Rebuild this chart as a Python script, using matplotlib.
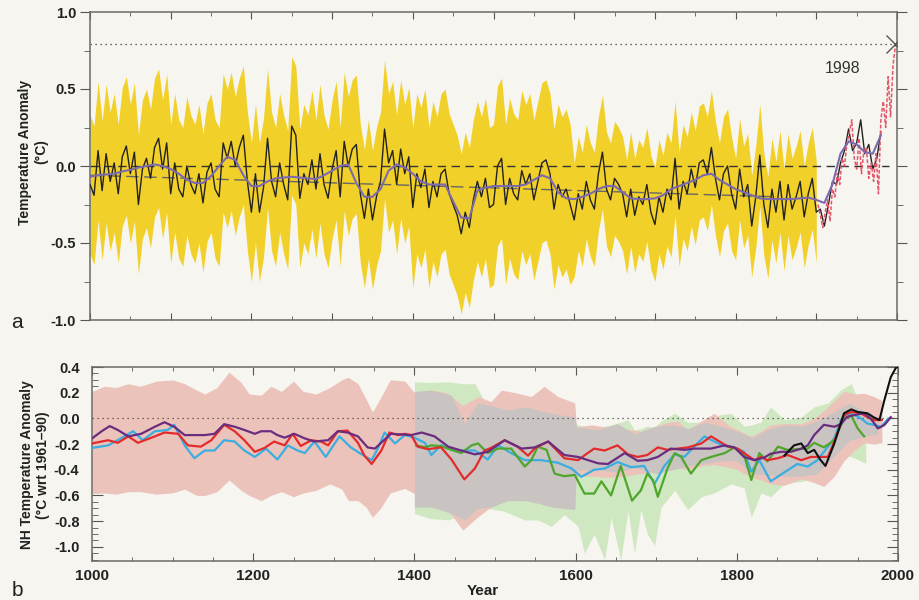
"""Millennial NH temperature reconstructions, two panels."""
import numpy as np
import matplotlib
matplotlib.use("Agg")
import matplotlib.pyplot as plt
from matplotlib.ticker import MultipleLocator, FormatStrFormatter

plt.rcParams['font.family'] = ['Liberation Sans', 'DejaVu Sans']

# ---------------- panel a: annual reconstruction (5-yr samples) ----------------
RECON_START, RECON_STEP = 1000, 5
RECON = [
    -0.12, -0.19, 0.10, -0.16, 0.08, -0.10, 0.02, -0.18, 0.06, 0.13,
    -0.05, 0.09, -0.25, -0.02, 0.05, -0.08, 0.12, 0.18, -0.02, 0.15,
    -0.18, 0.02, -0.15, -0.20, 0.00, -0.12, -0.18, -0.05, -0.24, -0.04,
    0.02, -0.15, -0.20, 0.15, 0.05, 0.16, 0.00, 0.12, 0.20, -0.10,
    -0.30, -0.05, -0.30, -0.14, 0.18, -0.10, -0.20, 0.02, -0.12, -0.22,
    0.26, 0.20, -0.21, -0.05, -0.12, 0.04, -0.15, 0.08, -0.12, -0.21,
    -0.02, 0.10, -0.20, 0.16, 0.00, 0.11, 0.14, -0.18, -0.34, -0.15,
    -0.35, -0.20, -0.10, 0.24, 0.02, 0.10, -0.12, 0.11, -0.05, 0.06,
    -0.27, -0.05, -0.14, -0.02, -0.27, -0.10, -0.20, -0.05, -0.02, -0.18,
    -0.25, -0.32, -0.44, -0.30, -0.40, -0.22, -0.10, -0.20, -0.08, -0.27,
    -0.25, 0.00, 0.05, -0.25, -0.08, -0.18, -0.22, -0.03, -0.12, -0.05,
    -0.22, -0.10, 0.02, 0.04, -0.05, -0.28, -0.12, -0.20, -0.15, -0.25,
    -0.35, -0.18, -0.28, -0.10, -0.22, -0.28, -0.05, 0.09, -0.15, -0.22,
    -0.08, -0.12, -0.18, -0.33, -0.15, -0.32, -0.20, -0.25, -0.12, -0.30,
    -0.38, -0.20, -0.30, -0.15, -0.22, 0.05, -0.28, -0.10, -0.18, -0.02,
    -0.14, 0.02, 0.04, -0.05, 0.12, -0.08, -0.22, -0.05, 0.00, -0.18,
    -0.28, -0.02, -0.20, -0.12, -0.39, -0.20, 0.07, -0.25, -0.40, -0.15,
    -0.30, -0.10, -0.35, -0.12, -0.28, -0.20, -0.10, -0.33, -0.18, -0.08,
    -0.30, -0.28, -0.39, -0.25, -0.10, -0.12, 0.02, 0.10, 0.24, 0.10,
    0.15, 0.30, 0.08, 0.14, -0.02, 0.05, 0.22,
]

# 40-year smoothed reconstruction (10-yr samples)
SMOOTH_START, SMOOTH_STEP = 1000, 10
SMOOTH = [
    -0.07, -0.06, -0.055, -0.05, -0.035, -0.025, -0.01, 0.0, 0.01, 0.0,
    -0.02, -0.05, -0.09, -0.11, -0.11, -0.065, 0.0, 0.06, 0.04, -0.06,
    -0.13, -0.13, -0.10, -0.08, -0.075, -0.07, -0.075, -0.08, -0.085, -0.06,
    -0.03, 0.0, 0.01, -0.11, -0.20, -0.20, -0.15, -0.03, 0.01, -0.01,
    -0.05, -0.10, -0.12, -0.12, -0.12, -0.23, -0.335, -0.34, -0.16, -0.14,
    -0.13, -0.13, -0.13, -0.13, -0.12, -0.09, -0.06, -0.08, -0.17, -0.21,
    -0.215, -0.20, -0.18, -0.15, -0.13, -0.13, -0.17, -0.21, -0.215, -0.215,
    -0.21, -0.19, -0.15, -0.13, -0.11, -0.09, -0.06, -0.05, -0.09, -0.12,
    -0.15, -0.17, -0.19, -0.21, -0.215, -0.215, -0.215, -0.215, -0.21, -0.205,
    -0.22, -0.24, -0.12, 0.08, 0.16, 0.14, 0.09, 0.08, 0.20,
]

# uncertainty half-widths of the annual series, by period (band ends 1900)
ERR_EDGES = [1000, 1400, 1600, 1800, 1900]
ERR_HALF = [0.45, 0.52, 0.37, 0.33]

# instrumental record
INSTR_YEARS = list(range(1902, 1999, 3))
INSTR = [
    -0.25, -0.32, -0.40, -0.30, -0.22, -0.36, -0.15, -0.20, -0.05, -0.12,
    0.05, 0.00, 0.15, 0.22, 0.30, 0.05, -0.02, 0.18, -0.05, 0.10,
    0.12, -0.08, 0.02, -0.10, 0.08, -0.18, 0.30, 0.42, 0.25, 0.58,
    0.32, 0.65, 0.78,
]

TREND_YEARS = [1000, 1850]
TREND = [-0.06, -0.20]
PEAK_YEAR, PEAK_VALUE = 1998, 0.79

# ---------------- panel b: smoothed reconstructions ----------------
RED_YEARS = [
    1000, 1020, 1032, 1045, 1057, 1074, 1090, 1107, 1119, 1135,
    1148, 1164, 1177, 1189, 1202, 1214, 1226, 1239, 1249, 1259,
    1272, 1284, 1293, 1305, 1317, 1330, 1338, 1347, 1359, 1369,
    1380, 1388, 1396, 1404, 1417, 1433, 1446, 1462, 1475, 1487,
    1495, 1512, 1528, 1541, 1549, 1566, 1586, 1603, 1615, 1623,
    1636, 1652, 1665, 1677, 1689, 1702, 1714, 1727, 1739, 1756,
    1768, 1776, 1789, 1801, 1809, 1822, 1830, 1838, 1851, 1863,
    1880, 1892, 1904, 1913, 1921, 1933, 1942, 1954, 1962, 1970,
    1980,
]
RED = [
    -0.195, -0.17, -0.19, -0.14, -0.19, -0.15, -0.11, -0.12, -0.21, -0.22,
    -0.17, -0.05, -0.10, -0.17, -0.26, -0.23, -0.18, -0.21, -0.12, -0.215,
    -0.17, -0.18, -0.21, -0.10, -0.095, -0.19, -0.29, -0.355, -0.25, -0.11,
    -0.13, -0.12, -0.13, -0.22, -0.24, -0.225, -0.32, -0.475, -0.39, -0.25,
    -0.23, -0.17, -0.22, -0.29, -0.235, -0.18, -0.31, -0.325, -0.27, -0.235,
    -0.25, -0.21, -0.28, -0.30, -0.285, -0.226, -0.245, -0.235, -0.226, -0.195,
    -0.14, -0.17, -0.22, -0.235, -0.27, -0.325, -0.30, -0.325, -0.31, -0.285,
    -0.325, -0.30, -0.30, -0.30, -0.18, 0.026, 0.05, 0.04, 0.01, -0.013,
    -0.013,
]

BLUE_YEARS = [
    1000, 1020, 1036, 1051, 1063, 1078, 1094, 1102, 1115, 1127,
    1140, 1152, 1164, 1177, 1189, 1202, 1216, 1230, 1243, 1255,
    1264, 1276, 1290, 1307, 1321, 1332, 1347, 1355, 1363, 1376,
    1388, 1400, 1413, 1421, 1433, 1450, 1462, 1475, 1491, 1504,
    1520, 1537, 1557, 1578, 1595, 1607, 1623, 1636, 1652, 1669,
    1685, 1698, 1710, 1723, 1735, 1747, 1760, 1772, 1785, 1797,
    1809, 1818, 1828, 1842, 1859, 1875, 1888, 1900, 1913, 1921,
    1929, 1937, 1946, 1954, 1962, 1970, 1979, 1987, 1991,
]
BLUE = [
    -0.23, -0.21, -0.155, -0.10, -0.17, -0.10, -0.09, -0.05, -0.21, -0.31,
    -0.25, -0.25, -0.17, -0.18, -0.25, -0.30, -0.235, -0.32, -0.21, -0.25,
    -0.27, -0.18, -0.30, -0.14, -0.225, -0.27, -0.325, -0.23, -0.11, -0.195,
    -0.13, -0.15, -0.19, -0.285, -0.21, -0.25, -0.25, -0.25, -0.32, -0.21,
    -0.27, -0.325, -0.325, -0.345, -0.39, -0.455, -0.40, -0.39, -0.34, -0.38,
    -0.37, -0.51, -0.37, -0.28, -0.30, -0.22, -0.14, -0.18, -0.215, -0.226,
    -0.26, -0.415, -0.325, -0.49, -0.42, -0.355, -0.375, -0.325, -0.22, -0.155,
    -0.013, 0.04, 0.026, 0.0, -0.04, -0.05, -0.065, -0.008, 0.008,
]

PURPLE_YEARS = [
    1000, 1012, 1022, 1032, 1045, 1061, 1078, 1090, 1102, 1115,
    1140, 1152, 1164, 1177, 1189, 1202, 1210, 1222, 1230, 1239,
    1251, 1264, 1276, 1293, 1305, 1317, 1330, 1342, 1351, 1363,
    1371, 1396, 1409, 1425, 1442, 1458, 1475, 1491, 1512, 1533,
    1549, 1566, 1586, 1603, 1628, 1640, 1661, 1677, 1689, 1702,
    1718, 1735, 1747, 1768, 1785, 1797, 1809, 1822, 1834, 1842,
    1855, 1867, 1880, 1888, 1896, 1908, 1921, 1929, 1937, 1946,
    1958, 1966, 1975, 1983, 1991,
]
PURPLE = [
    -0.156, -0.10, -0.06, -0.09, -0.14, -0.12, -0.065, -0.03, -0.065, -0.13,
    -0.13, -0.12, -0.045, -0.065, -0.09, -0.12, -0.10, -0.10, -0.13, -0.15,
    -0.12, -0.156, -0.18, -0.17, -0.10, -0.11, -0.14, -0.226, -0.235, -0.165,
    -0.12, -0.13, -0.11, -0.14, -0.22, -0.25, -0.28, -0.26, -0.17, -0.235,
    -0.226, -0.18, -0.285, -0.30, -0.35, -0.355, -0.27, -0.33, -0.325, -0.30,
    -0.235, -0.245, -0.235, -0.235, -0.21, -0.226, -0.30, -0.325, -0.305, -0.275,
    -0.26, -0.26, -0.235, -0.21, -0.13, -0.05, -0.065, -0.045, 0.013, 0.026,
    0.04, 0.0, -0.078, -0.052, 0.008,
]

GREEN_YEARS = [
    1402, 1413, 1421, 1433, 1446, 1458, 1471, 1479, 1491, 1504,
    1520, 1537, 1545, 1553, 1564, 1574, 1586, 1599, 1611, 1623,
    1632, 1644, 1656, 1670, 1681, 1689, 1696, 1702, 1714, 1723,
    1731, 1743, 1756, 1768, 1785, 1797, 1809, 1818, 1828, 1838,
    1851, 1863, 1875, 1888, 1896, 1908, 1921, 1933, 1942, 1950,
    1958,
]
GREEN = [
    -0.21, -0.225, -0.21, -0.216, -0.245, -0.27, -0.21, -0.195, -0.27, -0.235,
    -0.235, -0.375, -0.325, -0.22, -0.245, -0.43, -0.45, -0.44, -0.585, -0.585,
    -0.49, -0.60, -0.37, -0.64, -0.56, -0.43, -0.48, -0.61, -0.39, -0.27,
    -0.30, -0.43, -0.325, -0.30, -0.27, -0.226, -0.285, -0.48, -0.27, -0.335,
    -0.22, -0.245, -0.24, -0.235, -0.19, -0.225, -0.17, 0.0, 0.02, -0.078,
    -0.14,
]

BLACK_YEARS = [1859, 1871, 1880, 1888, 1896, 1904, 1910, 1921, 1933, 1942,
               1950, 1962, 1970, 1977, 1983, 1991, 1997, 1999]
BLACK = [-0.29, -0.21, -0.195, -0.27, -0.245, -0.325, -0.37, -0.195, 0.04, 0.07,
         0.05, 0.04, 0.008, -0.013, 0.14, 0.32, 0.39, 0.40]

# uncertainty envelopes
PINK_YEARS = [
    1000, 1015, 1030, 1045, 1060, 1080, 1100, 1115, 1130, 1140,
    1155, 1170, 1185, 1195, 1210, 1222, 1235, 1250, 1262, 1278,
    1295, 1310, 1318, 1330, 1340, 1348, 1358, 1370, 1388, 1400,
    1420, 1440, 1460, 1480, 1495, 1508, 1525, 1545, 1561, 1578,
    1599, 1601, 1620, 1640, 1660, 1680, 1700, 1714, 1727, 1739,
    1756, 1772, 1789, 1801, 1818, 1830, 1842, 1859, 1880, 1896,
    1908, 1921, 1933, 1946, 1958, 1970, 1980,
]
PINK_HI = [
    0.21, 0.25, 0.24, 0.27, 0.25, 0.29, 0.30, 0.27, 0.22, 0.19,
    0.24, 0.36, 0.28, 0.19, 0.18, 0.25, 0.21, 0.29, 0.21, 0.19,
    0.24, 0.30, 0.32, 0.27, 0.15, 0.05, 0.16, 0.30, 0.29, 0.20,
    0.22, 0.20, 0.10, 0.17, 0.13, 0.22, 0.20, 0.17, 0.25, 0.17,
    0.12, -0.07, -0.05, -0.07, -0.08, -0.10, -0.06, -0.03, -0.02, -0.09,
    -0.02, 0.04, -0.05, -0.09, -0.14, -0.10, -0.05, -0.04, -0.04, 0.0,
    0.06, 0.14, 0.21, 0.19, 0.195, 0.17, 0.14,
]
PINK_LO = [
    -0.585, -0.58, -0.59, -0.57, -0.57, -0.59, -0.58, -0.55, -0.60, -0.60,
    -0.57, -0.48, -0.56, -0.60, -0.64, -0.60, -0.57, -0.61, -0.58, -0.56,
    -0.51, -0.55, -0.64, -0.64, -0.69, -0.77, -0.70, -0.58, -0.545, -0.585,
    -0.60, -0.70, -0.87, -0.76, -0.69, -0.64, -0.62, -0.63, -0.66, -0.61,
    -0.58, -0.45, -0.45, -0.46, -0.45, -0.43, -0.42, -0.40, -0.38, -0.40,
    -0.37, -0.36, -0.38, -0.40, -0.46, -0.48, -0.51, -0.52, -0.47, -0.50,
    -0.53, -0.45, -0.33, -0.25, -0.19, -0.20, -0.19,
]

GRAY_YEARS = [
    1400, 1421, 1446, 1462, 1479, 1495, 1516, 1537, 1553, 1570,
    1599, 1601, 1628, 1652, 1673, 1700, 1720, 1740, 1760, 1780,
    1800, 1820, 1840, 1860, 1880, 1900, 1920, 1940, 1960, 1975,
]
GRAY_HI = [
    0.21, 0.22, 0.18, -0.04, 0.12, 0.10, 0.065, 0.09, 0.065, 0.04,
    0.01, -0.065, -0.09, -0.04, -0.12, -0.06, -0.05, -0.08, -0.03, -0.06,
    -0.10, -0.15, -0.08, -0.05, -0.06, -0.02, 0.05, 0.12, 0.05, 0.0,
]
GRAY_LO = [
    -0.69, -0.69, -0.74, -0.79, -0.70, -0.69, -0.64, -0.64, -0.66, -0.69,
    -0.71, -0.40, -0.40, -0.42, -0.38, -0.43, -0.40, -0.37, -0.35, -0.33,
    -0.33, -0.43, -0.44, -0.45, -0.45, -0.43, -0.30, -0.17, -0.14, -0.12,
]

GREENBAND_YEARS = [
    1400, 1420, 1442, 1460, 1475, 1490, 1510, 1537, 1553, 1570,
    1586, 1603, 1611, 1623, 1636, 1644, 1656, 1665, 1673, 1681,
    1689, 1698, 1706, 1723, 1739, 1756, 1772, 1793, 1809, 1818,
    1830, 1842, 1859, 1880, 1896, 1913, 1929, 1942, 1950, 1960,
]
GREENBAND_HI = [
    0.285, 0.28, 0.285, 0.27, 0.27, 0.10, 0.06, 0.08, 0.06, 0.04,
    0.02, -0.05, -0.06, -0.07, -0.06, -0.05, -0.03, -0.01, -0.09, -0.08,
    -0.06, -0.07, -0.02, 0.04, -0.03, -0.03, 0.02, 0.04, -0.06, -0.05,
    -0.03, 0.09, -0.01, 0.01, 0.09, 0.12, 0.22, 0.27, 0.15, 0.04,
]
GREENBAND_LO = [
    -0.74, -0.78, -0.79, -0.75, -0.70, -0.70, -0.72, -0.79, -0.79, -0.84,
    -0.75, -0.84, -1.05, -0.90, -1.10, -0.77, -1.10, -0.72, -1.05, -0.71,
    -0.90, -0.99, -0.69, -0.56, -0.71, -0.61, -0.58, -0.51, -0.54, -0.77,
    -0.58, -0.61, -0.51, -0.49, -0.47, -0.35, -0.27, -0.30, -0.32, -0.35,
]

BG = "#f6f5f0"
TICKCOL = "#555555"


def style_axes(ax):
    ax.set_facecolor(BG)
    for s in ax.spines.values():
        s.set_color("#6a6a6a")
        s.set_linewidth(1.1)


def main():
    fig = plt.figure(figsize=(9.2, 6.0), dpi=100)
    fig.patch.set_facecolor(BG)

    # ---------------- panel a ----------------
    ax1 = fig.add_axes([90 / 920, 1 - 320 / 600, 807 / 920, 308 / 600])
    style_axes(ax1)

    recon = np.array(RECON)
    ry = RECON_START + RECON_STEP * np.arange(len(recon))
    idx = np.searchsorted(ERR_EDGES, ry, side="right") - 1
    band = ry <= ERR_EDGES[-1]
    half = np.array(ERR_HALF)[np.clip(idx, 0, len(ERR_HALF) - 1)]
    ax1.fill_between(ry[band], recon[band] - half[band], recon[band] + half[band],
                     color="#f2d02a", lw=0, zorder=1)
    ax1.plot(ry, recon, color="#222222", lw=1.0, zorder=3)
    ax1.plot(INSTR_YEARS, INSTR, color="#e4566a", lw=1.1, ls=(0, (2.5, 1.2)), zorder=4)
    sy = SMOOTH_START + SMOOTH_STEP * np.arange(len(SMOOTH))
    ax1.plot(sy, SMOOTH, color="#7c6aae", lw=1.5, zorder=5)

    ax1.hlines(0, 1000, 1990, colors="#333333", linestyles=(0, (6, 4)), lw=1.0, zorder=2)
    ax1.plot(TREND_YEARS, TREND, color="#666666", lw=1.0, ls=(0, (9, 4)), zorder=2)
    ax1.hlines(PEAK_VALUE, 1000, PEAK_YEAR, colors="#333333", linestyles=(0, (1, 3)), lw=0.9)
    ax1.plot([PEAK_YEAR], [PEAK_VALUE], marker="x", ms=13, mew=1.0, color="#555555", zorder=6)
    ax1.text(1933, 0.63, str(PEAK_YEAR), fontsize=11.5, ha="center", va="center", color="#333333")

    ax1.set_xlim(1000, 2000)
    ax1.set_ylim(-1.0, 1.0)
    ax1.yaxis.set_major_locator(MultipleLocator(0.5))
    ax1.yaxis.set_minor_locator(MultipleLocator(0.25))
    ax1.yaxis.set_major_formatter(FormatStrFormatter("%.1f"))
    ax1.xaxis.set_major_locator(MultipleLocator(100))
    ax1.xaxis.set_minor_locator(MultipleLocator(50))
    ax1.tick_params(axis="y", which="both", direction="out", left=True, right=True,
                    colors=TICKCOL, labelcolor="#222222", labelsize=10.5, pad=3)
    ax1.tick_params(axis="y", which="major", length=7)
    ax1.tick_params(axis="y", which="minor", length=4)
    ax1.tick_params(axis="x", which="both", direction="in", top=True, bottom=True,
                    labelbottom=False, colors=TICKCOL)
    ax1.tick_params(axis="x", which="major", length=5)
    ax1.tick_params(axis="x", which="minor", length=3)
    for lab in ax1.get_yticklabels():
        lab.set_fontweight("bold")

    # ---------------- panel b ----------------
    ax2 = fig.add_axes([92 / 920, 1 - 561 / 600, 806 / 920, 194 / 600])
    style_axes(ax2)

    ax2.fill_between(GREENBAND_YEARS, GREENBAND_LO, GREENBAND_HI, color="#cfe8c2", lw=0, zorder=1)
    ax2.fill_between(PINK_YEARS, PINK_LO, PINK_HI, color="#ecc3ba", lw=0, zorder=2)
    ax2.fill_between(GRAY_YEARS, GRAY_LO, GRAY_HI, color="#c9c4c2", lw=0, zorder=3)
    ax2.axhline(0, color="#444444", lw=0.9, ls=(0, (1, 3)), zorder=4)

    ax2.plot(BLUE_YEARS, BLUE, color="#3aaee0", lw=1.6, zorder=5)
    ax2.plot(GREEN_YEARS, GREEN, color="#4fa62a", lw=1.6, zorder=6)
    ax2.plot(RED_YEARS, RED, color="#e32b2b", lw=1.6, zorder=7)
    ax2.plot(PURPLE_YEARS, PURPLE, color="#6b2c7e", lw=1.6, zorder=8)
    ax2.plot(BLACK_YEARS, BLACK, color="#111111", lw=1.5, zorder=9)

    ax2.set_xlim(1000, 2000)
    ax2.set_ylim(-1.11, 0.4)
    ax2.xaxis.set_major_locator(MultipleLocator(200))
    ax2.xaxis.set_minor_locator(MultipleLocator(50))
    ax2.yaxis.set_major_locator(MultipleLocator(0.2))
    ax2.yaxis.set_minor_locator(MultipleLocator(0.05))
    ax2.yaxis.set_major_formatter(FormatStrFormatter("%.1f"))
    ax2.tick_params(axis="both", which="both", direction="in", top=True, right=True,
                    colors=TICKCOL, labelcolor="#222222")
    ax2.tick_params(axis="y", which="major", length=8, labelsize=10.5, pad=9)
    ax2.tick_params(axis="y", which="minor", length=4)
    ax2.tick_params(axis="x", which="major", length=6, labelsize=11, pad=6)
    ax2.tick_params(axis="x", which="minor", length=3)
    for lab in ax2.get_yticklabels() + ax2.get_xticklabels():
        lab.set_fontweight("bold")

    # labels
    fig.text(33 / 920, 1 - 152 / 600, "Temperature Anomaly\n(°C)", rotation=90,
             ha="center", va="center", fontsize=10, fontweight="bold",
             color="#222222", linespacing=1.15)
    fig.text(35 / 920, 1 - 465 / 600, "NH Temperature Anomaly\n(°C wrt 1961\u201390)",
             rotation=90, ha="center", va="center", fontsize=10, fontweight="bold",
             color="#222222", linespacing=1.15)
    fig.text(483 / 920, 1 - 591 / 600, "Year", ha="center", va="center",
             fontsize=11, fontweight="bold", color="#222222")
    fig.text(17 / 920, 1 - 322 / 600, "a", ha="center", va="center", fontsize=15, color="#222222")
    fig.text(17 / 920, 1 - 591 / 600, "b", ha="center", va="center", fontsize=15, color="#222222")

    fig.savefig("out.png", dpi=100, facecolor=fig.get_facecolor())


if __name__ == "__main__":
    main()
